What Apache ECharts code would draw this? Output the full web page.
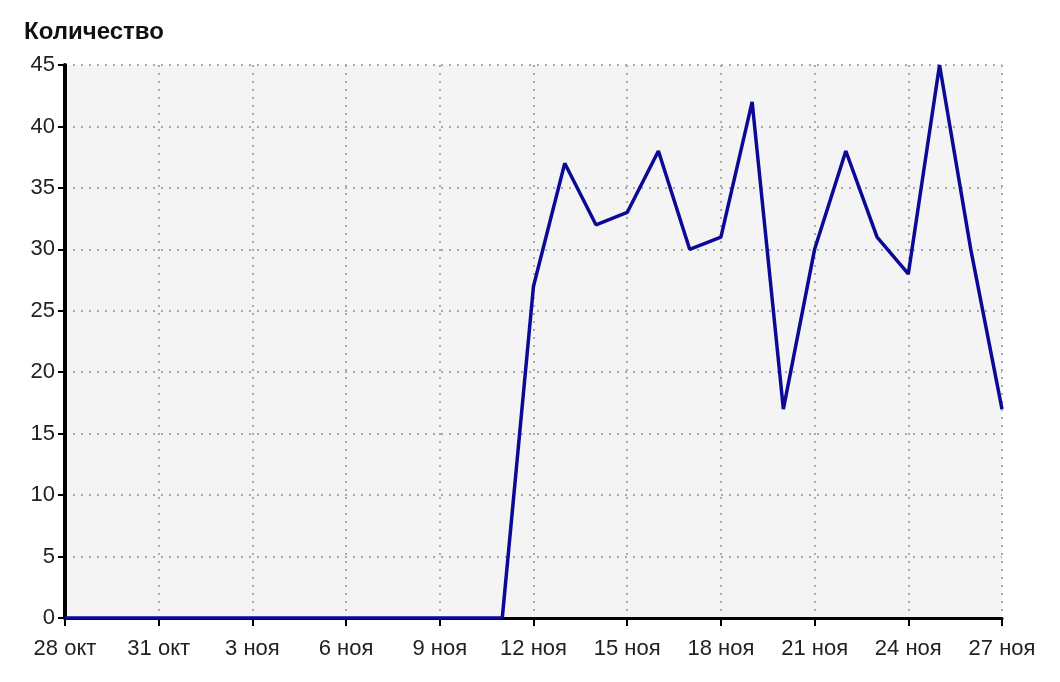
<!DOCTYPE html>
<html>
<head>
<meta charset="utf-8">
<script src="https://cdn.jsdelivr.net/npm/echarts@6/dist/echarts.min.js"></script>
<style>
html,body{margin:0;padding:0;background:#fff;}
#c{width:1060px;height:682px;}
</style>
</head>
<body>
<div id="c"></div>
<script>
const categories = ['28 окт','29 окт','30 окт','31 окт','1 ноя','2 ноя','3 ноя','4 ноя','5 ноя','6 ноя','7 ноя','8 ноя','9 ноя','10 ноя','11 ноя','12 ноя','13 ноя','14 ноя','15 ноя','16 ноя','17 ноя','18 ноя','19 ноя','20 ноя','21 ноя','22 ноя','23 ноя','24 ноя','25 ноя','26 ноя','27 ноя'];
const counts = [0,0,0,0,0,0,0,0,0,0,0,0,0,0,0,27,37,32,33,38,30,31,42,17,30,38,31,28,45,30,17];
const yTicks = [0,5,10,15,20,25,30,35,40,45];
const titleText = 'Количество';

const chart = echarts.init(document.getElementById('c'), null, {renderer:'canvas'});
const font = 'Liberation Sans, Arial, sans-serif';
chart.setOption({
  animation:false,
  backgroundColor:'#ffffff',
  title:{text:titleText,left:19,top:15,textStyle:{fontFamily:font,fontSize:24,fontWeight:'bold',color:'#111'}},
  grid:{left:65,right:58,top:65,bottom:64,show:true,backgroundColor:'#f4f4f4',borderWidth:0},
  xAxis:{
    type:'category',data:categories,boundaryGap:false,
    axisLine:{show:true,lineStyle:{color:'#000',width:3}},
    axisTick:{show:true,interval:2,length:8,lineStyle:{color:'#000',width:2}},
    axisLabel:{interval:2,fontFamily:font,fontSize:22,color:'#222',margin:20},
    splitLine:{show:true,interval:2,lineStyle:{color:'#aaa',type:[2,6],width:2}}
  },
  yAxis:{
    type:'value',min:yTicks[0],max:yTicks[yTicks.length-1],interval:5,
    axisLine:{show:true,lineStyle:{color:'#000',width:4}},
    axisTick:{show:true,length:7,lineStyle:{color:'#000',width:2}},
    axisLabel:{fontFamily:font,fontSize:22,color:'#222',margin:10},
    splitLine:{show:true,lineStyle:{color:'#aaa',type:[2,6],width:2}}
  },
  series:[{
    type:'line',data:counts,symbol:'none',
    lineStyle:{color:'#0a0a96',width:3.5},
    z:5
  }]
});
</script>
</body>
</html>
